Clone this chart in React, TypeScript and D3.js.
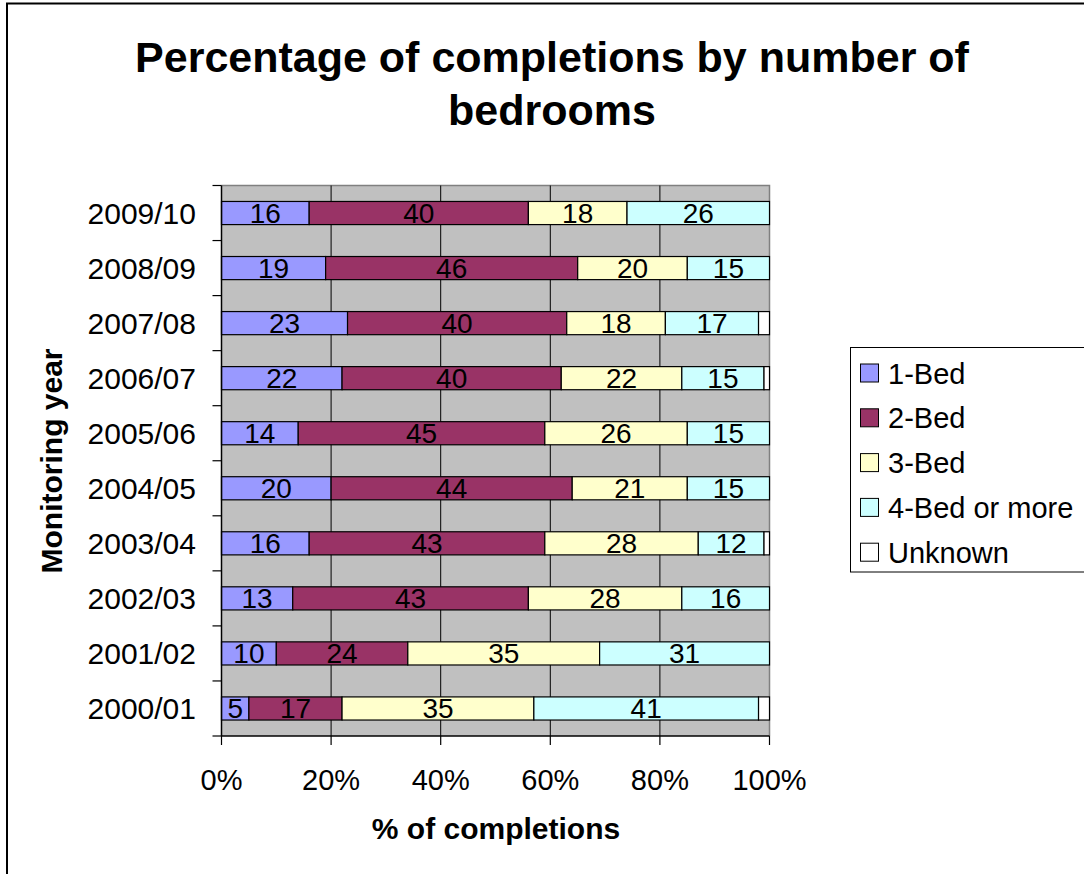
import React from "react";
import * as d3 from "d3";

// Monitoring years, listed top to bottom
const years = [
  "2009/10", "2008/09", "2007/08", "2006/07", "2005/06",
  "2004/05", "2003/04", "2002/03", "2001/02", "2000/01",
];

// Share of completions (%) per bedroom group, same order as years
const oneBed = [16, 19, 23, 22, 14, 20, 16, 13, 10, 5];
const twoBed = [40, 46, 40, 40, 45, 44, 43, 43, 24, 17];
const threeBed = [18, 20, 18, 22, 26, 21, 28, 28, 35, 35];
const fourBedPlus = [26, 15, 17, 15, 15, 15, 12, 16, 31, 41];
const unknown = [0, 0, 2, 1, 0, 0, 1, 0, 0, 2];

const seriesNames = ["1-Bed", "2-Bed", "3-Bed", "4-Bed or more", "Unknown"];
const seriesValues = [oneBed, twoBed, threeBed, fourBedPlus, unknown];
const seriesColors = ["#9999FF", "#993366", "#FFFFCC", "#CCFFFF", "#FFFFFF"];
const xTicks = [0, 20, 40, 60, 80, 100];

const FONT = "Arial, 'Liberation Sans', Helvetica, sans-serif";

export default function App() {
  const width = 1084;
  const height = 874;
  const plot = { left: 221.5, right: 769.5, top: 185.5, bottom: 736 };

  const x = d3.scaleLinear().domain([0, 100]).range([plot.left, plot.right]);
  const y = d3
    .scaleBand<string>()
    .domain(years)
    .range([plot.top, plot.bottom])
    .paddingInner(0.58)
    .paddingOuter(0.29);
  const step = y.step();

  const rows = years.map((yr, i) => {
    const obj: Record<string, number | string> = { year: yr };
    seriesNames.forEach((s, k) => (obj[s] = seriesValues[k][i]));
    return obj;
  });
  const stack = d3.stack<Record<string, number | string>>().keys(seriesNames);
  const layers = stack(rows as any);

  const boundaries = d3.range(years.length + 1).map((i) => plot.top + i * step);

  return (
    <div style={{ position: "absolute", left: 0, top: 0 }}>
      <svg width={width} height={height} style={{ display: "block", background: "#fff" }}>
        {/* outer chart frame */}
        <rect x={7} y={3.5} width={1200} height={1000} fill="none" stroke="#000" strokeWidth={2} />

        {/* title */}
        <text x={552} y={72} textAnchor="middle" fontFamily={FONT} fontWeight="bold" fontSize={43}>
          Percentage of completions by number of
        </text>
        <text x={552} y={125} textAnchor="middle" fontFamily={FONT} fontWeight="bold" fontSize={43}>
          bedrooms
        </text>

        {/* plot background */}
        <rect
          x={plot.left}
          y={plot.top}
          width={plot.right - plot.left}
          height={plot.bottom - plot.top}
          fill="#C0C0C0"
        />
        {/* top and right plot edges */}
        <path
          d={`M${plot.left},${plot.top}H${plot.right}V${plot.bottom}`}
          fill="none"
          stroke="#808080"
          strokeWidth={1.5}
        />
        {/* vertical gridlines */}
        {xTicks.slice(1, -1).map((t) => (
          <line key={t} x1={x(t)} x2={x(t)} y1={plot.top} y2={plot.bottom} stroke="#000" strokeWidth={1} />
        ))}

        {/* stacked bars */}
        {layers.map((layer, k) => (
          <g key={seriesNames[k]}>
            {layer.map((d, i) => {
              const v = d[1] - d[0];
              if (v <= 0) return null;
              return (
                <rect
                  key={years[i]}
                  x={x(d[0])}
                  y={y(years[i])!}
                  width={x(d[1]) - x(d[0])}
                  height={y.bandwidth()}
                  fill={seriesColors[k]}
                  stroke="#000"
                  strokeWidth={1.2}
                />
              );
            })}
          </g>
        ))}

        {/* data labels */}
        {layers.slice(0, 4).map((layer, k) => (
          <g key={"lab" + k}>
            {layer.map((d, i) => {
              const v = d[1] - d[0];
              if (v <= 0) return null;
              return (
                <text
                  key={years[i]}
                  x={x((d[0] + d[1]) / 2)}
                  y={y(years[i])! + y.bandwidth() / 2 + 10}
                  textAnchor="middle"
                  fontFamily={FONT}
                  fontSize={28}
                  fill="#000"
                >
                  {v}
                </text>
              );
            })}
          </g>
        ))}

        {/* axes */}
        <line x1={plot.left} x2={plot.left} y1={plot.top} y2={plot.bottom} stroke="#000" strokeWidth={1.5} />
        <line x1={plot.left} x2={plot.right} y1={plot.bottom} y2={plot.bottom} stroke="#000" strokeWidth={1.5} />
        {boundaries.map((b, i) => (
          <line key={i} x1={plot.left - 9} x2={plot.left} y1={b} y2={b} stroke="#000" strokeWidth={1.2} />
        ))}
        {xTicks.map((t) => (
          <line key={t} x1={x(t)} x2={x(t)} y1={plot.bottom} y2={plot.bottom + 9} stroke="#000" strokeWidth={1.2} />
        ))}

        {/* y tick labels */}
        {years.map((yr) => (
          <text
            key={yr}
            x={196}
            y={y(yr)! + y.bandwidth() / 2 + 10.5}
            textAnchor="end"
            fontFamily={FONT}
            fontSize={30}
          >
            {yr}
          </text>
        ))}
        {/* x tick labels */}
        {xTicks.map((t) => (
          <text key={t} x={x(t)} y={790} textAnchor="middle" fontFamily={FONT} fontSize={29}>
            {t}%
          </text>
        ))}

        {/* axis titles */}
        <text x={496} y={839} textAnchor="middle" fontFamily={FONT} fontWeight="bold" fontSize={30}>
          % of completions
        </text>
        <text
          transform={`translate(62,461) rotate(-90)`}
          textAnchor="middle"
          fontFamily={FONT}
          fontWeight="bold"
          fontSize={30}
        >
          Monitoring year
        </text>

        {/* legend */}
        <rect x={850.5} y={347.5} width={300} height={224.5} fill="#fff" stroke="#000" strokeWidth={1} />
        {seriesNames.map((s, k) => {
          const cy = 373 + k * 44.8;
          return (
            <g key={s}>
              <rect x={860.5} y={cy - 9} width={18} height={18} fill={seriesColors[k]} stroke="#000" strokeWidth={1} />
              <text x={888} y={cy + 10.5} fontFamily={FONT} fontSize={29}>
                {s}
              </text>
            </g>
          );
        })}
      </svg>
    </div>
  );
}
